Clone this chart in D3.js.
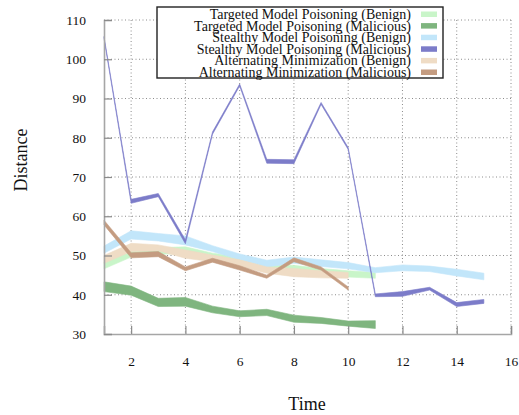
<!DOCTYPE html>
<html>
<head>
<meta charset="utf-8">
<script src="https://cdn.jsdelivr.net/npm/d3@7"></script>
<style>
  body { margin: 0; background: #fff; }
  svg { display: block; font-family: "Liberation Serif", "DejaVu Serif", serif; }
</style>
</head>
<body>
<div id="chart"></div>
<script>
"use strict"

// ---------------------------- DATA ----------------------------//
const steps = [1, 2, 3, 4, 5, 6, 7, 8, 9, 10, 11, 12, 13, 14, 15];
const xTicks = [2, 4, 6, 8, 10, 12, 14, 16];
const yTicks = [30, 40, 50, 60, 70, 80, 90, 100, 110];

const seriesNames = [
    "Targeted Model Poisoning (Benign)",
    "Targeted Model Poisoning (Malicious)",
    "Stealthy Model Poisoning (Benign)",
    "Stealthy Model Poisoning (Malicious)",
    "Alternating Minimization (Benign)",
    "Alternating Minimization (Malicious)"
];
const seriesColors = ["#c9f5c9", "#7fb57f", "#c2e6fa", "#7c7cc9", "#efdcc5", "#c49c81"];

// upper / lower edge of every band, one value per step
const tmpBenignHi = [48.3, 51.3, 52.0, 52.2, 50.6, 49.7, 47.6, 47.5, 46.7, 46.1, 45.7];
const tmpBenignLo = [46.6, 49.6, 50.3, 50.5, 49.0, 48.0, 46.0, 46.0, 45.1, 44.5, 44.2];
const tmpMalHi = [43.3, 42.2, 39.1, 39.3, 37.1, 35.9, 36.3, 34.8, 34.2, 33.3, 33.4];
const tmpMalLo = [40.8, 39.9, 37.0, 37.1, 35.4, 34.4, 34.7, 33.0, 32.7, 32.0, 31.4];
const smpBenignHi = [52.4, 56.3, 55.6, 55.0, 52.5, 50.4, 48.8, 49.6, 48.9, 48.2, 46.9, 47.6, 47.3, 46.5, 45.5];
const smpBenignLo = [50.6, 54.2, 53.7, 52.7, 51.0, 48.9, 47.1, 48.0, 47.2, 46.6, 45.6, 46.1, 45.9, 44.8, 43.8];
const smpMalHi = [105.8, 64.3, 65.8, 54.0, 81.5, 93.7, 74.5, 74.4, 89.0, 77.5, 40.2, 40.8, 41.9, 38.0, 38.8];
const smpMalLo = [105.3, 63.3, 65.0, 53.0, 80.9, 93.2, 73.5, 73.4, 88.5, 77.0, 39.5, 39.6, 41.2, 37.0, 37.8];
const amBenignHi = [50.0, 53.1, 52.7, 51.4, 50.1, 48.9, 47.1, 46.7, 46.1, 45.7];
const amBenignLo = [48.0, 51.0, 51.2, 49.3, 48.4, 47.2, 45.5, 44.6, 44.3, 44.2];
const amMalHi = [59.0, 50.7, 51.0, 47.1, 49.3, 47.4, 45.0, 49.4, 47.1, 42.0];
const amMalLo = [57.8, 49.4, 49.7, 46.1, 48.3, 46.3, 44.2, 48.4, 46.3, 41.2];

const bands = [
    [tmpBenignHi, tmpBenignLo],
    [tmpMalHi, tmpMalLo],
    [smpBenignHi, smpBenignLo],
    [smpMalHi, smpMalLo],
    [amBenignHi, amBenignLo],
    [amMalHi, amMalLo]
];

//------------------------- LAYOUT -------------------------------//
const width = 519;
const height = 415;
const margin = {top: 20, right: 8, bottom: 81, left: 104};
const innerW = width - margin.left - margin.right;
const innerH = height - margin.top - margin.bottom;

const svg = d3.select("#chart").append("svg")
    .attr("width", width)
    .attr("height", height);

const plot = svg.append("g")
    .attr("transform", `translate(${margin.left},${margin.top})`);

const xScale = d3.scaleLinear().domain([1, 16]).range([0, innerW]);
const yScale = d3.scaleLinear().domain([30, 110]).range([innerH, 0]);

//-------------------------- GRID --------------------------------//
plot.append("g").selectAll("line")
    .data(yTicks.slice(1))
    .join("line")
    .attr("x1", 0).attr("x2", innerW)
    .attr("y1", d => yScale(d)).attr("y2", d => yScale(d))
    .attr("stroke", "#8c8c8c").attr("stroke-width", 1)
    .attr("stroke-dasharray", "1,2.5");

plot.append("g").selectAll("line")
    .data(xTicks)
    .join("line")
    .attr("x1", d => xScale(d)).attr("x2", d => xScale(d))
    .attr("y1", 0).attr("y2", innerH)
    .attr("stroke", "#8c8c8c").attr("stroke-width", 1)
    .attr("stroke-dasharray", "1,2.5");

//-------------------------- BANDS -------------------------------//
const area = d3.area()
    .x((d, i) => xScale(steps[i]))
    .y0(d => yScale(d[1]))
    .y1(d => yScale(d[0]));

bands.forEach(([hi, lo], k) => {
    const pts = hi.map((v, i) => [v, lo[i]]);
    plot.append("path")
        .datum(pts)
        .attr("d", area)
        .attr("fill", seriesColors[k])
        .attr("stroke", seriesColors[k])
        .attr("stroke-width", 0.6);
});

//-------------------------- AXES --------------------------------//
const axisColor = "#a6a6a6";

const xAxis = plot.append("g")
    .attr("transform", `translate(0,${innerH})`)
    .call(d3.axisBottom(xScale).tickValues(xTicks).tickSize(-8).tickPadding(22));

const yAxis = plot.append("g")
    .call(d3.axisLeft(yScale).tickValues(yTicks).tickSize(-8).tickPadding(18));

[xAxis, yAxis].forEach(ax => {
    ax.select(".domain").attr("stroke", axisColor).attr("stroke-width", 1.6);
    ax.selectAll(".tick line").attr("stroke", "#8a8a8a").attr("stroke-width", 1.2);
    ax.selectAll(".tick text")
        .attr("fill", "#111")
        .style("font-size", "13.5px")
        .style("font-family", "Liberation Serif, serif");
});

svg.append("text")
    .attr("transform", `translate(27,${margin.top + innerH / 2 - 17}) rotate(-90)`)
    .attr("text-anchor", "middle")
    .style("font-size", "18px")
    .attr("fill", "#111")
    .text("Distance");

svg.append("text")
    .attr("x", 307)
    .attr("y", 410)
    .attr("text-anchor", "middle")
    .style("font-size", "18px")
    .attr("fill", "#111")
    .text("Time");

//-------------------------- LEGEND ------------------------------//
const legend = svg.append("g").attr("transform", "translate(157,7)");

legend.append("rect")
    .attr("width", 286).attr("height", 71)
    .attr("fill", "#fff")
    .attr("stroke", "#222").attr("stroke-width", 1.4);

const rowH = 11.6;
const rows = legend.selectAll("g.row")
    .data(seriesNames)
    .join("g")
    .attr("class", "row")
    .attr("transform", (d, i) => `translate(0,${i * rowH})`);

rows.append("text")
    .attr("x", 254)
    .attr("y", 12)
    .attr("text-anchor", "end")
    .style("font-size", "14px")
    .attr("fill", "#111")
    .text(d => d);

rows.append("rect")
    .attr("x", 264).attr("y", 4.5)
    .attr("width", 16).attr("height", 5.5)
    .attr("fill", (d, i) => seriesColors[i]);
</script>
</body>
</html>
